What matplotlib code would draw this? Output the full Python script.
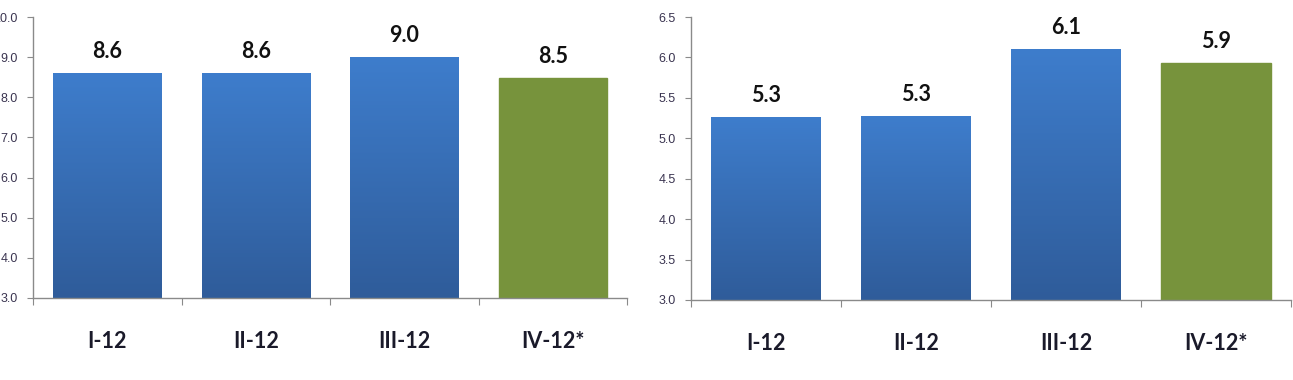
import numpy as np
import matplotlib
matplotlib.use('Agg')
import matplotlib.pyplot as plt

categories = ['I-12', 'II-12', 'III-12', 'IV-12*']
left_values = [8.6, 8.6, 9.0, 8.48]
left_labels = ['8.6', '8.6', '9.0', '8.5']
right_values = [5.26, 5.27, 6.1, 5.93]
right_labels = ['5.3', '5.3', '6.1', '5.9']

BLUE_TOP = '#3e7dcc'
BLUE_BOT = '#2f5c9a'
GREEN = '#77933c'


def draw_panel(ax, values, labels, ylim, yticks):
 x = np.arange(len(values)) + 0.5
 bars = ax.bar(x, values, width=0.73, color=BLUE_TOP, zorder=2)
 # gradient for the blue bars, flat green for the forecast
 grad = np.linspace(0, 1, 256).reshape(-1, 1)
 cmap = matplotlib.colors.LinearSegmentedColormap.from_list('b', [BLUE_BOT, BLUE_TOP])
 for i, b in enumerate(bars):
  if i == len(bars) - 1:
   b.set_color(GREEN)
   continue
  b.set_facecolor('none')
  x0 = b.get_x()
  im = ax.imshow(grad, extent=[x0, x0 + b.get_width(), ylim[0], b.get_height()],
                 origin='lower', aspect='auto', cmap=cmap, zorder=2)
  im.set_clip_path(b)
 ax.set_xlim(0, len(values))
 ax.set_ylim(*ylim)
 for xi, v, lab in zip(x, values, labels):
  ax.annotate(lab, (xi, v), xytext=(0, 8), textcoords='offset points', ha='center', va='bottom',
              fontsize=15.5, fontweight='bold', family='Lato', color='#111111')
 ax.set_yticks(yticks)
 ax.set_yticklabels(['%.1f' % t for t in yticks], fontsize=9, color='#3a3450', family='Liberation Sans')
 ax.set_xticks(np.arange(len(values) + 1))
 ax.set_xticklabels([])
 ax.set_xticks(x, minor=True)
 ax.set_xticklabels(categories, minor=True, fontsize=15.5, fontweight='bold', family='Lato', color='#1a1a2a')
 ax.tick_params(axis='x', which='minor', length=0, pad=24)
 ax.tick_params(axis='x', which='major', length=5, color='#8a8a8a', direction='out')
 ax.tick_params(axis='y', length=4, color='#8a8a8a', pad=7)
 for s in ['top', 'right']:
  ax.spines[s].set_visible(False)
 for s in ['left', 'bottom']:
  ax.spines[s].set_color('#8a8a8a')
  ax.spines[s].set_linewidth(1.0)


def main():
 fig = plt.figure(figsize=(12.93, 3.80), dpi=100)
 ax1 = fig.add_axes([33 / 1293, 1 - 298 / 380, 594 / 1293, 281 / 380])
 ax2 = fig.add_axes([691 / 1293, 1 - 300 / 380, 600 / 1293, 283 / 380])
 draw_panel(ax1, left_values, left_labels, (3.0, 10.0), np.arange(3.0, 10.01, 1.0))
 draw_panel(ax2, right_values, right_labels, (3.0, 6.5), np.arange(3.0, 6.51, 0.5))
 fig.savefig('out.png', dpi=100)


if __name__ == '__main__':
 main()
